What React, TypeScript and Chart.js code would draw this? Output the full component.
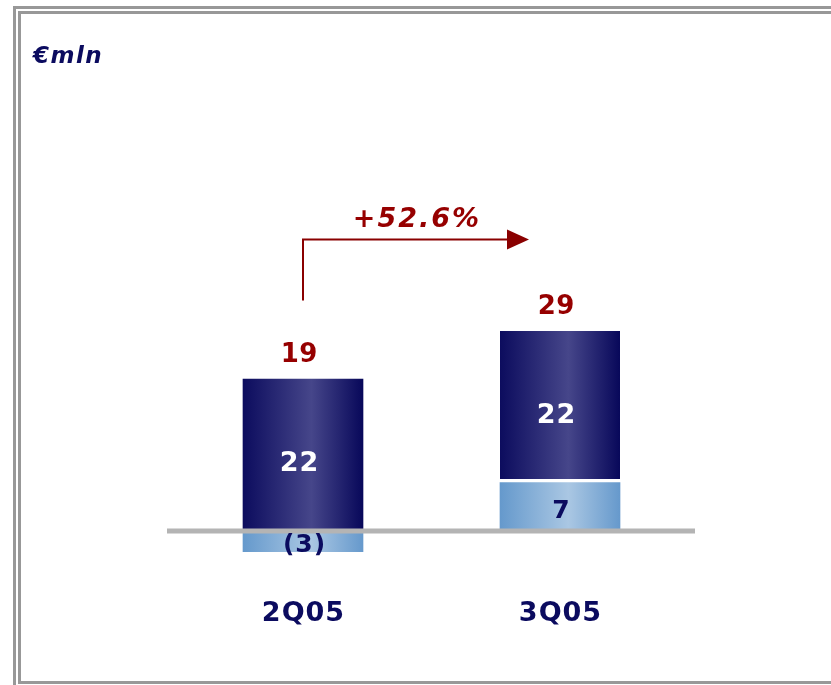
import React, { useEffect, useRef } from 'react';
import { Chart, registerables } from 'chart.js';

Chart.register(...registerables);

// ---- data ----
const categories = ['2Q05', '3Q05'];
const baseValues = [-3, 7]; // light segment
const coreValues = [22, 22]; // dark segment
const growthLabel = '+52.6%';
const unitLabel = '€mln';
const yMin = -5;
const yMax = 35;

// ---- styles ----
const NAVY = '#0b0b5f';
const RED = '#960000';
const ARROW = '#8a0000';
const BAR_W = 120;
const FONT = '"DejaVu Sans", Verdana, sans-serif';

function gradientFor(c: any, stops: string[]) {
  const chart = c.chart;
  const xs = chart.scales && chart.scales.x;
  if (!xs || c.dataIndex === undefined) return stops[1];
  const cx = xs.getPixelForValue(c.dataIndex);
  if (!Number.isFinite(cx)) return stops[1];
  const g = chart.ctx.createLinearGradient(cx - BAR_W / 2, 0, cx + BAR_W / 2, 0);
  g.addColorStop(0, stops[0]);
  g.addColorStop(0.57, stops[1]);
  g.addColorStop(1, stops[2]);
  return g;
}

function fmt(v: number) {
  return v < 0 ? `(${Math.abs(v)})` : `${v}`;
}

function text(ctx: CanvasRenderingContext2D, s: string, x: number, y: number, font: string, color: string, spacing: number, align: CanvasTextAlign = 'center') {
  ctx.save();
  ctx.font = font;
  ctx.fillStyle = color;
  ctx.textBaseline = 'alphabetic';
  (ctx as any).letterSpacing = `${spacing}px`;
  const w = ctx.measureText(s).width;
  let left = x;
  if (align === 'center') left = x - (w - spacing) / 2;
  ctx.textAlign = 'left';
  ctx.fillText(s, left, y);
  ctx.restore();
}

const framePlugin = {
  id: 'frame',
  beforeDraw(chart: any) {
    const ctx = chart.ctx;
    ctx.save();
    ctx.fillStyle = '#ffffff';
    ctx.fillRect(0, 0, chart.width, chart.height);
    ctx.fillStyle = '#989898';
    // outer frame
    ctx.fillRect(13, 6, chart.width, 3);
    ctx.fillRect(13, 6, 3, chart.height);
    // inner frame
    ctx.fillRect(18, 11, chart.width, 3);
    ctx.fillRect(18, 11, 3, 671);
    ctx.fillRect(18, 681, chart.width, 3);
    ctx.restore();
  },
  afterDatasetsDraw(chart: any) {
    const ctx = chart.ctx;
    const xs = chart.scales.x;
    const ys = chart.scales.y;
    const area = chart.chartArea;
    const y0 = ys.getPixelForValue(0);

    // baseline
    ctx.save();
    ctx.fillStyle = '#b4b4b4';
    ctx.fillRect(area.left - 7.5, y0 - 2.5, area.right - area.left + 14, 5);
    ctx.restore();

    // unit label
    text(ctx, unitLabel, 33, 63, `italic bold 23px ${FONT}`, NAVY, 1.5, 'left');

    categories.forEach((cat, i) => {
      const cx = xs.getPixelForValue(i);
      const b = baseValues[i];
      const d = coreValues[i];
      const total = b + d;
      const posTop = Math.max(0, b) + d;
      // category label
      text(ctx, cat, cx, area.bottom + 55.5, `bold 27px ${FONT}`, NAVY, 1);
      // total
      text(ctx, `${total}`, cx - 4, ys.getPixelForValue(posTop) - 17, `bold 26px ${FONT}`, RED, 0.5);
      // dark segment label
      const dStart = Math.max(0, b);
      const dMid = (ys.getPixelForValue(dStart) + ys.getPixelForValue(dStart + d)) / 2;
      text(ctx, fmt(d), cx - 4, dMid + 16, `bold 27px ${FONT}`, '#ffffff', 1);
      // light segment label
      const lMid = (ys.getPixelForValue(0) + ys.getPixelForValue(b)) / 2;
      text(ctx, fmt(b), cx + 1, lMid + 11, `bold 25px ${FONT}`, NAVY, 1);
    });

    // growth arrow
    const x1 = xs.getPixelForValue(0);
    const x2 = xs.getPixelForValue(1) - 31;
    const yH = area.top - 50;
    const yV = area.top + 11;
    ctx.save();
    ctx.strokeStyle = ARROW;
    ctx.fillStyle = ARROW;
    ctx.lineWidth = 2;
    ctx.beginPath();
    ctx.moveTo(x1, yV);
    ctx.lineTo(x1, yH);
    ctx.lineTo(x2 - 20, yH);
    ctx.stroke();
    ctx.beginPath();
    ctx.moveTo(x2 - 22, yH - 10);
    ctx.lineTo(x2, yH);
    ctx.lineTo(x2 - 22, yH + 10);
    ctx.closePath();
    ctx.fill();
    ctx.restore();
    text(ctx, growthLabel, (x1 + x2) / 2, yH - 13, `italic bold 27px ${FONT}`, RED, 2);
  },
};

export default function App() {
  const ref = useRef<HTMLCanvasElement | null>(null);

  useEffect(() => {
    if (!ref.current) return;
    const chart = new Chart(ref.current, {
      type: 'bar',
      data: {
        labels: categories,
        datasets: [
          {
            label: 'base',
            data: baseValues,
            backgroundColor: (c: any) => gradientFor(c, ['#6599cc', '#aac7e3', '#6699cc']),
            borderWidth: 0,
            barThickness: BAR_W,
          },
          {
            label: 'core',
            data: coreValues,
            backgroundColor: (c: any) => gradientFor(c, ['#0c0c5e', '#46468a', '#08085a']),
            borderColor: '#ffffff',
            borderSkipped: false,
            borderWidth: (c: any) =>
              baseValues[c.dataIndex] > 0 ? { top: 0, left: 0, right: 0, bottom: 4 } : 0,
            barThickness: BAR_W,
          },
        ],
      },
      options: {
        animation: false,
        responsive: false,
        events: [],
        layout: { padding: { left: 174.5, right: 142.5, top: 289.5, bottom: 119.5 } },
        plugins: { legend: { display: false }, tooltip: { enabled: false }, title: { display: false } },
        scales: {
          x: { stacked: true, display: false, offset: true, grid: { display: false } },
          y: { stacked: true, display: false, min: yMin, max: yMax },
        },
      } as any,
      plugins: [framePlugin],
    });
    return () => chart.destroy();
  }, []);

  return (
    <div style={{ position: 'absolute', left: 0, top: 0, width: 831, height: 685 }}>
      <canvas ref={ref} width={831} height={685} style={{ width: 831, height: 685, display: 'block' }} />
    </div>
  );
}
